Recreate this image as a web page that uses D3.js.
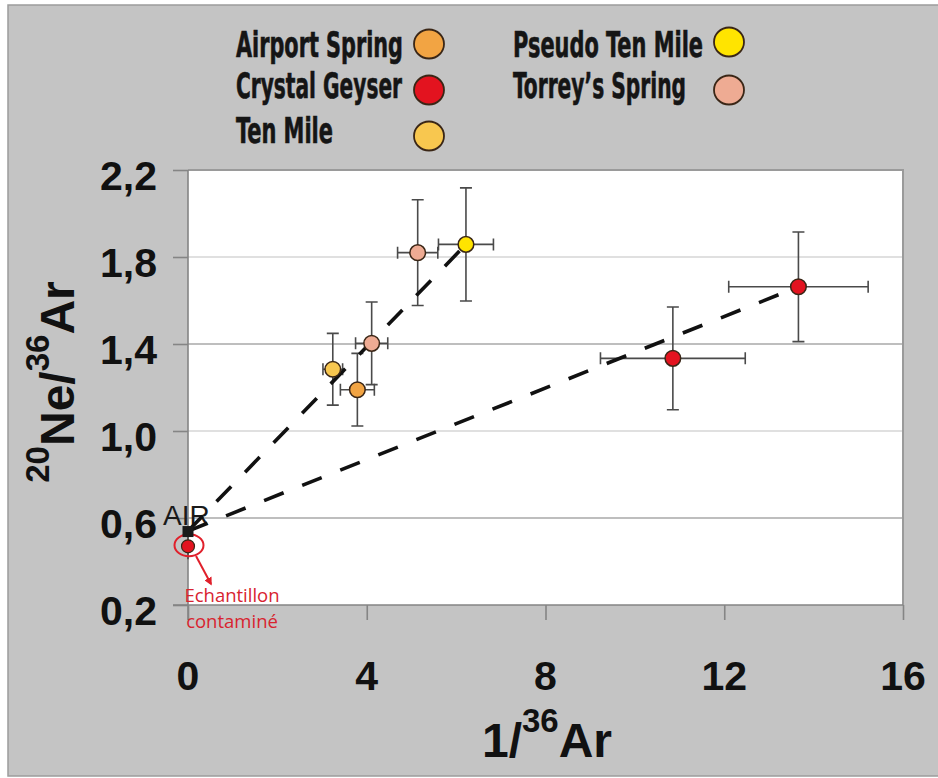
<!DOCTYPE html>
<html>
<head>
<meta charset="utf-8">
<script src="https://cdn.jsdelivr.net/npm/d3@7"></script>
<style>
  html, body { margin: 0; padding: 0; background: #ffffff; }
  svg { display: block; }
</style>
</head>
<body>
<script>
// ---------------- DATA ----------------
const seriesNames = ["Airport Spring", "Crystal Geyser", "Ten Mile", "Pseudo Ten Mile", "Torrey’s Spring"];
const xTicks = [0, 4, 8, 12, 16];
const yTicks = [0.2, 0.6, 1.0, 1.4, 1.8, 2.2];

// sample points (1/36Ar, 20Ne/36Ar) with 1-sigma error bars
const ptSeries = ["Airport Spring", "Crystal Geyser", "Crystal Geyser", "Ten Mile", "Pseudo Ten Mile", "Torrey’s Spring", "Torrey’s Spring"];
const ptX      = [3.79, 10.85, 13.66, 3.24, 6.22, 4.11, 5.14];
const ptY      = [1.19, 1.334, 1.663, 1.284, 1.858, 1.403, 1.82];
const ptXErr   = [0.38, 1.62, 1.56, 0.22, 0.615, 0.36, 0.45];
const ptYErr   = [0.167, 0.236, 0.252, 0.165, 0.26, 0.19, 0.243];

// air end-member and the contaminated sample
const airLabel = "AIR";
const airX = 0, airY = 0.54;
const contamX = 0, contamY = 0.47, contamYErr = 0.06;
const contamLabel = ["Echantillon", "contaminé"];

// mixing lines from AIR to these end points
const mixEndX = [6.22, 13.66];
const mixEndY = [1.858, 1.663];

// ---------------- STYLE / LAYOUT ----------------
const W = 938, H = 778;
const seriesColor = {
  "Airport Spring": "#f2a443",
  "Crystal Geyser": "#e3131f",
  "Ten Mile": "#f8c74f",
  "Pseudo Ten Mile": "#ffe400",
  "Torrey’s Spring": "#eeab93"
};
const legendPos = {
  "Airport Spring":   {tx: 236, ty: 57,  w: 167, cx: 429, cy: 44},
  "Crystal Geyser":   {tx: 236, ty: 98,  w: 166, cx: 429, cy: 90},
  "Ten Mile":         {tx: 236, ty: 143, w: 97,  cx: 429, cy: 136},
  "Pseudo Ten Mile":  {tx: 513, ty: 57,  w: 190, cx: 729, cy: 42},
  "Torrey’s Spring":  {tx: 513, ty: 98,  w: 173, cx: 729, cy: 90}
};
const axisFont = "'Liberation Sans', Arial, Helvetica, sans-serif";
const legendFont = "'Liberation Sans Narrow', 'DejaVu Sans Condensed', 'Liberation Sans', sans-serif";

const svg = d3.select("body").append("svg").attr("width", W).attr("height", H);

// outer panel
svg.append("rect").attr("x", 8).attr("y", 5).attr("width", W).attr("height", 771)
  .attr("fill", "#c4c4c4").attr("stroke", "#9c9c9c").attr("stroke-width", 1.5);

const x = d3.scaleLinear().domain([0, 16]).range([188, 903]);
const y = d3.scaleLinear().domain([0.2, 2.2]).range([605, 170]);

// plot area
svg.append("rect").attr("x", x(0)).attr("y", y(2.2))
  .attr("width", x(16) - x(0)).attr("height", y(0.2) - y(2.2))
  .attr("fill", "#ffffff");

// gridlines
svg.append("g").selectAll("line").data(yTicks.filter(d => d > 0.2 && d < 2.2)).join("line")
  .attr("x1", x(0)).attr("x2", x(16))
  .attr("y1", d => y(d)).attr("y2", d => y(d))
  .attr("stroke", (d, i) => (i % 2 === 0 ? "#a9a9a9" : "#d6d6d6"))
  .attr("stroke-width", 1.6);

// plot border (top and right)
svg.append("path")
  .attr("d", `M${x(0)},${y(2.2)} H${x(16)} V${y(0.2)}`)
  .attr("fill", "none").attr("stroke", "#9a9a9a").attr("stroke-width", 2);

// axes
const yAxis = d3.axisLeft(y).tickValues(yTicks).tickSize(15).tickFormat("");
const xAxis = d3.axisBottom(x).tickValues(xTicks).tickSize(15).tickFormat("");
const gy = svg.append("g").attr("transform", `translate(${x(0)},0)`).call(yAxis);
const gx = svg.append("g").attr("transform", `translate(0,${y(0.2)})`).call(xAxis);
[gx, gy].forEach(g => {
  g.select(".domain").attr("stroke", "#858585").attr("stroke-width", 1.6);
  g.selectAll(".tick line").attr("stroke", "#858585").attr("stroke-width", 1.6);
});
gy.select(".domain").attr("d", `M0,${y(2.2)}V${y(0.2) + 15}`);
gx.select(".domain").attr("d", `M${x(0) - 15},0H${x(16)}`);

// tick labels
svg.append("g").selectAll("text").data(yTicks).join("text")
  .attr("x", 157).attr("y", d => y(d) + 20)
  .attr("text-anchor", "end")
  .attr("font-family", axisFont).attr("font-weight", "bold").attr("font-size", 41)
  .attr("fill", "#111")
  .text(d => d3.format(".1f")(d).replace(".", ","));
svg.append("g").selectAll("text").data(xTicks).join("text")
  .attr("x", d => x(d)).attr("y", 690)
  .attr("text-anchor", "middle")
  .attr("font-family", axisFont).attr("font-weight", "bold").attr("font-size", 41)
  .attr("fill", "#111")
  .text(d => d);

// axis titles
const xt = svg.append("text").attr("x", 547).attr("y", 757).attr("text-anchor", "middle")
  .attr("font-family", axisFont).attr("font-weight", "bold").attr("font-size", 48).attr("fill", "#111");
xt.append("tspan").text("1/");
xt.append("tspan").attr("font-size", 33).attr("dy", -25).text("36");
xt.append("tspan").attr("dy", 25).text("Ar");

const yt = svg.append("text").attr("transform", "translate(74,382) rotate(-90)").attr("text-anchor", "middle")
  .attr("font-family", axisFont).attr("font-weight", "bold").attr("font-size", 48).attr("fill", "#111");
yt.append("tspan").attr("font-size", 33).attr("dy", -25).text("20");
yt.append("tspan").attr("dy", 25).text("Ne/");
yt.append("tspan").attr("font-size", 33).attr("dy", -25).text("36");
yt.append("tspan").attr("dy", 25).text("Ar");

// legend
const lg = svg.append("g");
seriesNames.forEach(name => {
  const p = legendPos[name];
  lg.append("text").attr("x", p.tx).attr("y", p.ty)
    .attr("font-family", legendFont).attr("font-weight", "bold").attr("font-size", 35)
    .attr("textLength", p.w).attr("lengthAdjust", "spacingAndGlyphs")
    .attr("fill", "#151515").attr("stroke", "#151515").attr("stroke-width", 0.6)
    .text(name);
  lg.append("ellipse").attr("cx", p.cx).attr("cy", p.cy).attr("rx", 15).attr("ry", 14.5)
    .attr("fill", seriesColor[name]).attr("stroke", "#3a2616").attr("stroke-width", 1.8);
});

// AIR label (drawn before mixing lines so dashes cross it)
svg.append("text").attr("x", 163).attr("y", 525)
  .attr("font-family", axisFont).attr("font-size", 28).attr("fill", "#1a1a1a")
  .text(airLabel);

// error bars
const pts = ptX.map((v, i) => ({s: ptSeries[i], x: ptX[i], y: ptY[i], ex: ptXErr[i], ey: ptYErr[i]}));
const eb = svg.append("g").attr("stroke", "#4a4a4a").attr("stroke-width", 1.6).attr("fill", "none");
const cap = 6;
pts.forEach(p => {
  eb.append("path").attr("d",
    `M${x(p.x)},${y(p.y - p.ey)}V${y(p.y + p.ey)}` +
    `M${x(p.x) - cap},${y(p.y - p.ey)}h${2 * cap}M${x(p.x) - cap},${y(p.y + p.ey)}h${2 * cap}` +
    `M${x(p.x - p.ex)},${y(p.y)}H${x(p.x + p.ex)}` +
    `M${x(p.x - p.ex)},${y(p.y) - cap}v${2 * cap}M${x(p.x + p.ex)},${y(p.y) - cap}v${2 * cap}`);
});
// contaminated sample error bar
eb.append("path").attr("d", `M${x(contamX)},${y(contamY - contamYErr)}V${y(contamY + contamYErr)}`);

// mixing lines
svg.append("g").selectAll("line").data(mixEndX).join("line")
  .attr("x1", x(airX)).attr("y1", y(airY))
  .attr("x2", d => x(d)).attr("y2", (d, i) => y(mixEndY[i]))
  .attr("stroke", "#111").attr("stroke-width", 3.6)
  .attr("stroke-dasharray", "21,20");

// markers
svg.append("g").selectAll("circle").data(pts).join("circle")
  .attr("cx", d => x(d.x)).attr("cy", d => y(d.y)).attr("r", 7.8)
  .attr("fill", d => seriesColor[d.s]).attr("stroke", "#3a2616").attr("stroke-width", 1.5);

// contaminated sample
svg.append("ellipse").attr("cx", x(contamX) + 1).attr("cy", y(contamY) - 1).attr("rx", 14.5).attr("ry", 11)
  .attr("fill", "none").attr("stroke", "#e0202b").attr("stroke-width", 2);
svg.append("circle").attr("cx", x(contamX)).attr("cy", y(contamY)).attr("r", 6.5)
  .attr("fill", "#e3131f").attr("stroke", "#3a2616").attr("stroke-width", 1.2);

// AIR point
svg.append("rect").attr("x", x(airX) - 5.5).attr("y", y(airY) - 5)
  .attr("width", 11).attr("height", 11).attr("fill", "#1a1a1a");

// arrow
const defs = svg.append("defs");
defs.append("marker").attr("id", "arr").attr("viewBox", "0 0 10 10").attr("refX", 8).attr("refY", 5)
  .attr("markerWidth", 4).attr("markerHeight", 4).attr("orient", "auto")
  .append("path").attr("d", "M0,0L10,5L0,10Z").attr("fill", "#e0202b");
svg.append("line").attr("x1", 196).attr("y1", 556).attr("x2", 211).attr("y2", 584)
  .attr("stroke", "#e0202b").attr("stroke-width", 2).attr("marker-end", "url(#arr)");

// contaminated label
svg.append("g").selectAll("text").data(contamLabel).join("text")
  .attr("x", 232).attr("y", (d, i) => 602 + i * 26)
  .attr("text-anchor", "middle")
  .attr("font-family", "'Open Sans', 'Noto Sans', sans-serif").attr("font-size", 18.5)
  .attr("fill", "#d8232f")
  .text(d => d);
</script>
</body>
</html>
